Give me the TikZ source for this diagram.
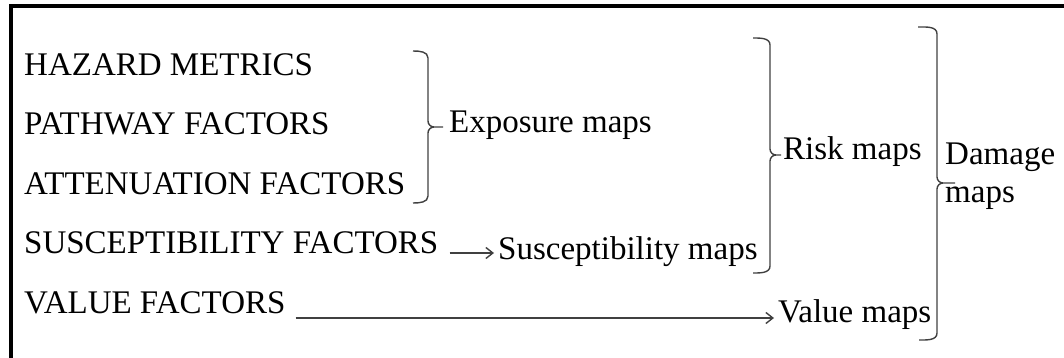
\documentclass[tikz,border=0pt]{standalone}
\usepackage{fontspec}
\setmainfont{Liberation Serif}
\usetikzlibrary{arrows.meta}
\begin{document}
\begin{tikzpicture}[x=1pt,y=-1pt,
  lbl/.style={inner sep=0pt,anchor=base west,font=\fontsize{33}{38}\selectfont,text=black},
  brk/.style={draw=black!75,line width=1.4pt},
  arr/.style={draw=black!75,line width=1.4pt,-{Straight Barb[length=7pt,width=11pt,line width=1.4pt]}},
  frame/.style={draw=black,line width=4pt}]
\useasboundingbox (0,0) rectangle (1064,358);
\draw[frame] (11,380) -- (11,6) -- (1080,6);
% left column
\node[lbl] (haz) at (24,76) {HAZARD METRICS};
\node[lbl] (path) at (24,135) {PATHWAY FACTORS};
\node[lbl] (att) at (24,194) {ATTENUATION FACTORS};
\node[lbl] (susc) at (24,253) {SUSCEPTIBILITY FACTORS};
\node[lbl] (val) at (24,313) {VALUE FACTORS};
% right labels
\node[lbl] (expo) at (449,133) {Exposure maps};
\node[lbl] (suscm) at (498,259) {Susceptibility maps};
\node[lbl] (risk) at (783,160) {Risk maps};
\node[lbl] (valm) at (778,322) {Value maps};
\node[lbl,align=left,anchor=north west] (dam) at (945,143) {Damage\\maps};
% brackets
\coordinate (e1) at (428,51);
\coordinate (e2) at (428,203);
\draw[brk] (413,51) to[out=0,in=90] (428,58) -- (428,121) to[out=-90,in=180] (434,127) -- (443,127)
  (434,127) to[out=180,in=90] (428,133) -- (428,196) to[out=-90,in=0] (413,203);
\draw[brk] (753,38) to[out=0,in=90] (770,45) -- (770,149) to[out=-90,in=180] (776,155) -- (781,155)
  (776,155) to[out=180,in=90] (770,161) -- (770,266) to[out=-90,in=0] (753,273);
\draw[brk] (918,27) to[out=0,in=90] (937,34) -- (937,177) to[out=-90,in=180] (943,183) -- (955,183)
  (943,183) to[out=180,in=90] (937,189) -- (937,333) to[out=-90,in=0] (919,340);
% arrows
\draw[arr,shorten >=4pt] ([xshift=11pt]susc.base east) -- (susc.base east -| suscm.west);
\draw[arr,shorten >=4pt] ([xshift=10pt,yshift=-5pt]val.base east) -- ([yshift=-5pt]val.base east -| valm.west);
\end{tikzpicture}
\end{document}
